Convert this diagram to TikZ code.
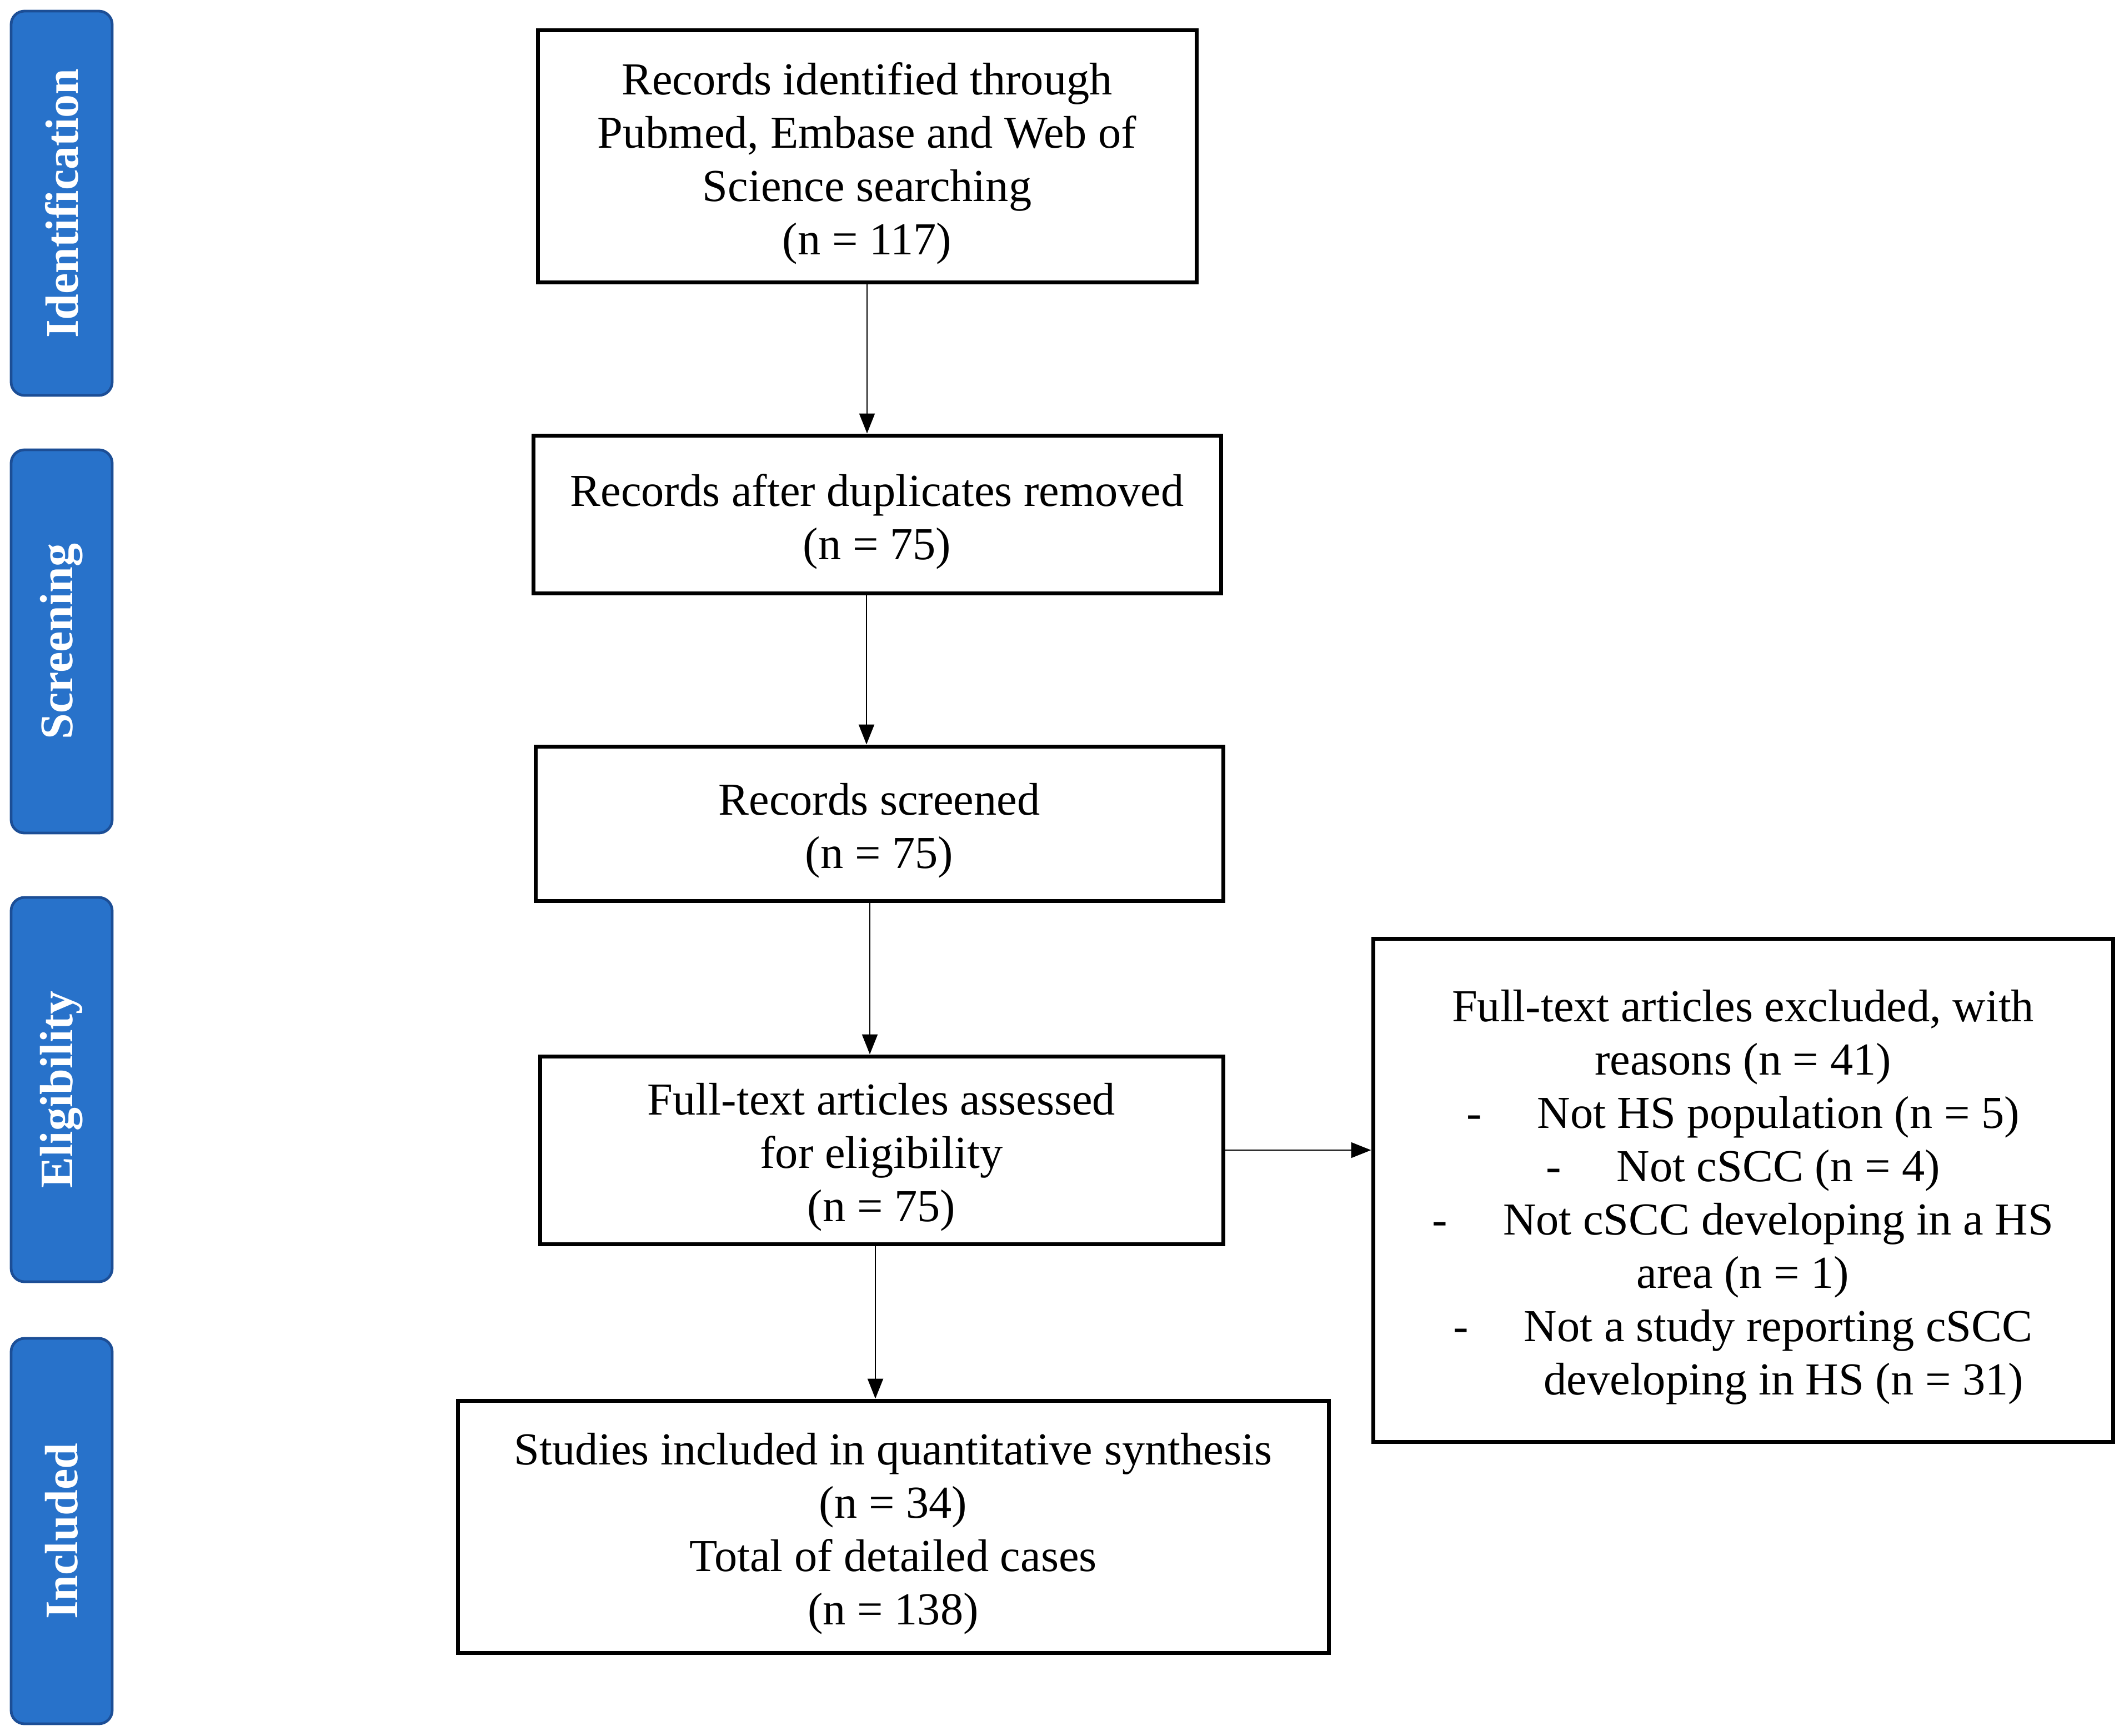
\documentclass[tikz,border=0pt]{standalone}
\usepackage{fontspec}
\setmainfont{Liberation Serif}
\usetikzlibrary{arrows.meta}
\definecolor{tabfill}{RGB}{40,114,202}
\definecolor{tabdraw}{RGB}{28,78,150}
\begin{document}
\begin{tikzpicture}[x=1pt,y=1pt,
  stagebox/.style={draw=black, line width=1.75pt, inner sep=0pt},
  stagetext/.style={align=center, inner sep=0pt, font=\fontsize{20.6}{24}\selectfont},
  tabbox/.style={draw=tabdraw, fill=tabfill, line width=1.2pt, rounded corners=6pt,
    inner sep=0pt, minimum width=45.5pt},
  tablabel/.style={text=white, font=\fontsize{21}{24}\selectfont\bfseries, rotate=90},
  arr/.style={-{Triangle[length=9pt,width=7pt]}, line width=0.6pt}]
\useasboundingbox (0,0) rectangle (956,-781.5);

% stage tabs
\node[tabbox, minimum height=173pt] (t1) at (27.75,-91.5) {};
\node[tabbox, minimum height=172.5pt] (t2) at (27.75,-288.75) {};
\node[tabbox, minimum height=173pt] (t3) at (27.75,-490.5) {};
\node[tabbox, minimum height=173.5pt] (t4) at (27.75,-689.25) {};
\node[tablabel] (l1) at (t1) {Identification};
\node[tablabel] (l2) at (t2) {Screening};
\node[tablabel] (l3) at (t3) {Eligibility};
\node[tablabel] (l4) at (t4) {Included};

% main boxes
\node[stagebox, minimum width=296.5pt, minimum height=113.5pt] (b1) at (390.25,-70.25) {};
\node[stagebox, minimum width=309.5pt, minimum height=71pt] (b2) at (394.75,-231.5) {};
\node[stagebox, minimum width=309.5pt, minimum height=69.5pt] (b3) at (395.75,-370.75) {};
\node[stagebox, minimum width=307.5pt, minimum height=84.5pt] (b4) at (396.75,-517.75) {};
\node[stagebox, minimum width=392pt, minimum height=113.5pt] (b5) at (402,-687.25) {};
\node[stagebox, minimum width=333pt, minimum height=226.5pt] (b6) at (784.5,-535.75) {};

% box texts
\node[stagetext] (x1) at ([yshift=-3.2pt]b1.center)
  {Records identified through\\Pubmed, Embase and Web of\\Science searching\\(n = 117)};
\node[stagetext] (x2) at ([yshift=-3.2pt]b2.center)
  {Records after duplicates removed\\(n = 75)};
\node[stagetext] (x3) at ([yshift=-3.2pt]b3.center)
  {Records screened\\(n = 75)};
\node[stagetext] (x4) at ([yshift=-3.2pt]b4.center)
  {Full-text articles assessed\\for eligibility\\(n = 75)};
\node[stagetext] (x5) at ([yshift=-3.2pt]b5.center)
  {Studies included in quantitative synthesis\\(n = 34)\\Total of detailed cases\\(n = 138)};
\node[stagetext] (x6) at ([yshift=-3.2pt]b6.center)
  {Full-text articles excluded, with\\reasons (n = 41)\\
   -\hspace{25pt}Not HS population (n = 5)\\
   -\hspace{25pt}Not cSCC (n = 4)\\
   -\hspace{25pt}Not cSCC developing in a HS\\
   area (n = 1)\\
   -\hspace{25pt}Not a study reporting cSCC\\
   \hspace*{36.6pt}developing in HS (n = 31)};

% connectors
\coordinate (a2) at ([xshift=-4.75pt]b2.south);
\coordinate (a3) at ([xshift=-4.25pt]b3.south);
\coordinate (a4) at ([xshift=-2.75pt]b4.south);
\draw[arr] (b1.south) -- (b1.south |- b2.north);
\draw[arr] (a2) -- (a2 |- b3.north);
\draw[arr] (a3) -- (a3 |- b4.north);
\draw[arr] (a4) -- (a4 |- b5.north);
\draw[arr] (b4.east) -- (b4.east -| b6.west);
\end{tikzpicture}
\end{document}
